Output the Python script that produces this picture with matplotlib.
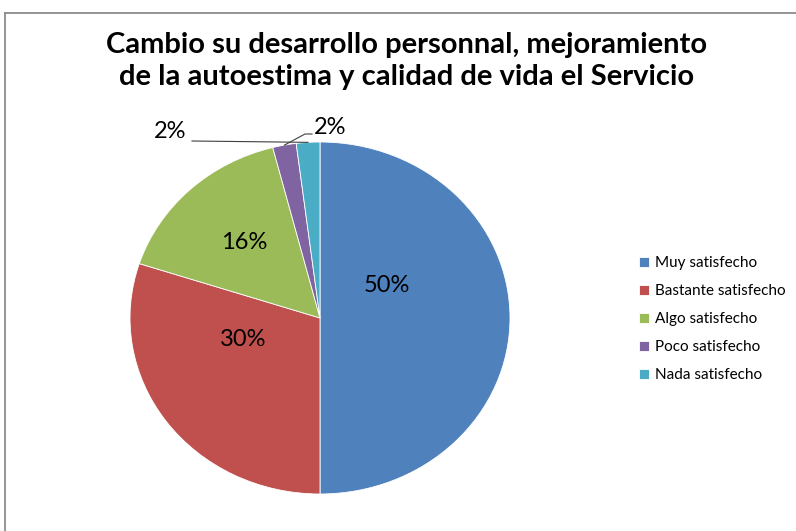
import matplotlib
matplotlib.use("Agg")
import matplotlib.pyplot as plt
from matplotlib.lines import Line2D
import numpy as np

plt.rcParams['font.family'] = ['Lato', 'DejaVu Sans']

title = "Cambio su desarrollo personnal, mejoramiento\nde la autoestima y calidad de vida el Servicio"
categories = ["Muy satisfecho", "Bastante satisfecho", "Algo satisfecho",
              "Poco satisfecho", "Nada satisfecho"]
values = [50, 30, 16, 2, 2]
colors = ["#4F81BD", "#C0504D", "#9BBB59", "#8064A2", "#4BACC6"]

W, H = 796, 531
fig = plt.figure(figsize=(W / 100, H / 100), dpi=100)

# chart border (top and left visible)
fig.add_artist(Line2D([5 / W, 5 / W], [0, 1 - 13 / H], color="#8c8c8c", lw=1.3,
                      transform=fig.transFigure))
fig.add_artist(Line2D([5 / W, 1], [1 - 13 / H, 1 - 13 / H], color="#8c8c8c", lw=1.3,
                      transform=fig.transFigure))

fig.text(407 / W, 1 - 61 / H, title, ha="center", va="center", fontsize=21,
         fontweight="bold", linespacing=1.32, color="#000000")

# pie axes (elliptical like the original)
cx, cy, rx, ry = 320, 318, 190, 176
ax = fig.add_axes([(cx - rx) / W, (H - cy - ry) / H, 2 * rx / W, 2 * ry / H])
wedges, _ = ax.pie(values, colors=colors, startangle=90, counterclock=False,
                   wedgeprops=dict(edgecolor="white", linewidth=0.6))
ax.set_aspect("auto")
ax.set_xlim(-1, 1)
ax.set_ylim(-1, 1)

def px2d(px, py):
    return ((px - cx) / rx, (cy - py) / ry)

labels = [f"{v}%" for v in values]
label_px = [(387, 285), (243, 340), (244, 243), (330, 128), (170, 132)]
for lab, (px, py) in zip(labels, label_px):
    x, y = px2d(px, py)
    ax.text(x, y, lab, ha="center", va="center", fontsize=17, color="#000000",
            clip_on=False)

# leader lines for the two small slices
def mid_point(w):
    th = np.deg2rad((w.theta1 + w.theta2) / 2)
    return np.cos(th), np.sin(th)

px_, py_ = mid_point(wedges[3])
ax.plot([px_, px2d(305, 134)[0], px2d(312, 134)[0]],
        [py_, px2d(305, 134)[1], px2d(312, 134)[1]],
        color="#404040", lw=0.8, clip_on=False)
cx_, cy_ = mid_point(wedges[4])
ax.plot([cx_, px2d(192, 141)[0]], [cy_, px2d(192, 141)[1]],
        color="#404040", lw=0.8, clip_on=False)

# legend
leg = fig.legend(wedges, categories, loc="upper left",
                 bbox_to_anchor=(633 / W, 1 - 250 / H), frameon=False,
                 fontsize=11, handlelength=0.65, handleheight=0.65,
                 handletextpad=0.4, labelspacing=0.92, borderaxespad=0)

fig.savefig("out.png", dpi=100)
